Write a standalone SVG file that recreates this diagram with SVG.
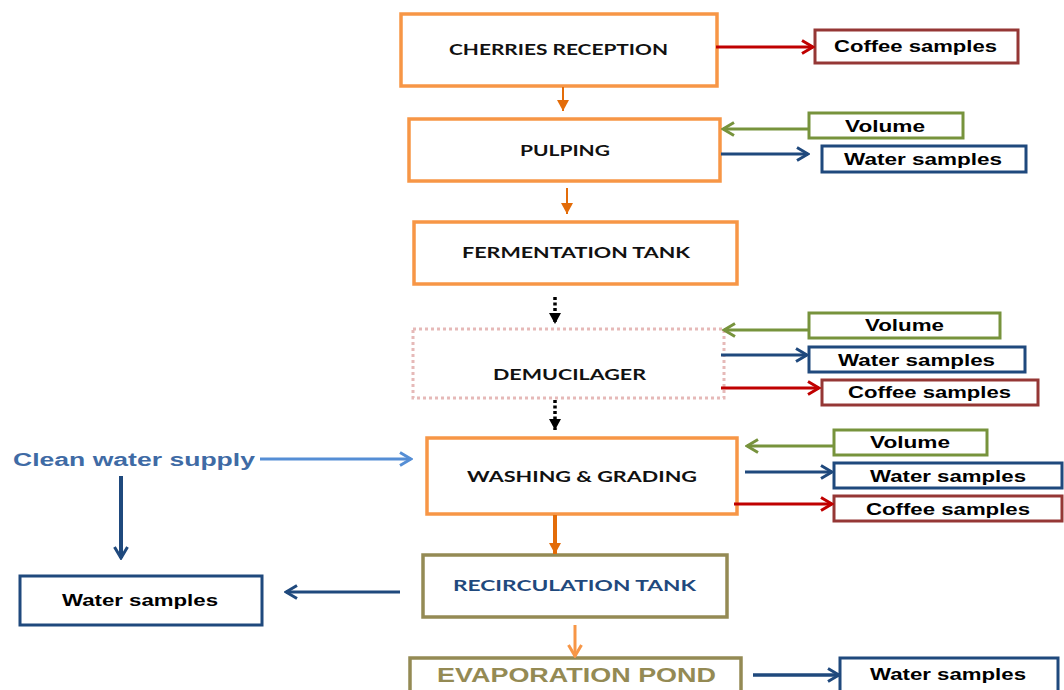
<svg xmlns="http://www.w3.org/2000/svg" width="1064" height="690" viewBox="0 0 1064 690">
  <style>
    .step { fill: #ffffff; stroke: #F79646; stroke-width: 3.5; }
    .olive { fill: #ffffff; stroke: #948A54; stroke-width: 3.5; }
    .dotted { fill: #ffffff; stroke: #E6B9B8; stroke-width: 3; stroke-dasharray: 3 3; }
    .coffee { fill: #ffffff; stroke: #953735; stroke-width: 3; }
    .vol { fill: #ffffff; stroke: #77933C; stroke-width: 3; }
    .water { fill: #ffffff; stroke: #1F497D; stroke-width: 3; }
    .lbl { font-family: Lato, "Open Sans", "Liberation Sans", sans-serif; font-weight: bold; font-size: 15.5px; fill: #111111; text-anchor: start; }
    .smp { font-family: "Liberation Sans", Arial, sans-serif; font-weight: bold; font-size: 16px; fill: #000000; }
    .red { stroke: #C00000; stroke-width: 3; fill: none; }
    .grn { stroke: #77933C; stroke-width: 3; fill: none; }
    .blu { stroke: #1F497D; stroke-width: 3; fill: none; }
  </style>
  <defs>
    <marker id="chRed" viewBox="0 0 16 16" refX="14" refY="8" markerWidth="16" markerHeight="16" markerUnits="userSpaceOnUse" orient="auto">
      <path d="M3,1.5 L14,8 L3,14.5" fill="none" stroke="#C00000" stroke-width="3"/>
    </marker>
    <marker id="chGrn" viewBox="0 0 16 16" refX="14" refY="8" markerWidth="16" markerHeight="16" markerUnits="userSpaceOnUse" orient="auto">
      <path d="M3,1.5 L14,8 L3,14.5" fill="none" stroke="#77933C" stroke-width="3"/>
    </marker>
    <marker id="chBlu" viewBox="0 0 16 16" refX="14" refY="8" markerWidth="16" markerHeight="16" markerUnits="userSpaceOnUse" orient="auto">
      <path d="M3,1.5 L14,8 L3,14.5" fill="none" stroke="#1F497D" stroke-width="3"/>
    </marker>
    <marker id="chSky" viewBox="0 0 16 16" refX="14" refY="8" markerWidth="16" markerHeight="16" markerUnits="userSpaceOnUse" orient="auto">
      <path d="M3,1.5 L14,8 L3,14.5" fill="none" stroke="#558ED5" stroke-width="3"/>
    </marker>
    <marker id="chOrg" viewBox="0 0 16 16" refX="14" refY="8" markerWidth="16" markerHeight="16" markerUnits="userSpaceOnUse" orient="auto">
      <path d="M3,1.5 L14,8 L3,14.5" fill="none" stroke="#F79646" stroke-width="3"/>
    </marker>
    <marker id="triOrg" viewBox="0 0 12 12" refX="11" refY="6" markerWidth="12" markerHeight="12" markerUnits="userSpaceOnUse" orient="auto">
      <path d="M0,0 L11,6 L0,12 Z" fill="#E36C09"/>
    </marker>
    <marker id="triBlk" viewBox="0 0 12 12" refX="11" refY="6" markerWidth="12" markerHeight="12" markerUnits="userSpaceOnUse" orient="auto">
      <path d="M0,0 L11,6 L0,12 Z" fill="#000000"/>
    </marker>
  </defs>

  <rect width="1064" height="690" fill="#ffffff"/>

  <!-- process steps -->
  <g id="cherries-reception">
    <rect class="step" x="401" y="14" width="316" height="72"/>
    <text class="lbl" x="449" y="55" textLength="219" lengthAdjust="spacingAndGlyphs">CHERRIES RECEPTION</text>
  </g>
  <g id="pulping">
    <rect class="step" x="409" y="119" width="311" height="62"/>
    <text class="lbl" x="520" y="156" textLength="90" lengthAdjust="spacingAndGlyphs">PULPING</text>
  </g>
  <g id="fermentation-tank">
    <rect class="step" x="414" y="222" width="323" height="62"/>
    <text class="lbl" x="462" y="258" textLength="228" lengthAdjust="spacingAndGlyphs">FERMENTATION TANK</text>
  </g>
  <g id="demucilager">
    <rect class="dotted" x="413" y="329" width="311" height="69"/>
    <text class="lbl" x="493" y="380" textLength="153" lengthAdjust="spacingAndGlyphs">DEMUCILAGER</text>
  </g>
  <g id="washing-grading">
    <rect class="step" x="427" y="438" width="310" height="76"/>
    <text class="lbl" x="467" y="482" textLength="230" lengthAdjust="spacingAndGlyphs">WASHING &amp; GRADING</text>
  </g>
  <g id="recirculation-tank">
    <rect class="olive" x="423" y="555" width="304" height="62"/>
    <text class="lbl" x="453" y="591" textLength="243" lengthAdjust="spacingAndGlyphs" style="fill:#1F497D">RECIRCULATION TANK</text>
  </g>
  <g id="evaporation-pond">
    <rect class="olive" x="410" y="658" width="331" height="45"/>
    <text x="437" y="682" textLength="279" lengthAdjust="spacingAndGlyphs" style="font-family:'Liberation Sans',Arial,sans-serif;font-weight:bold;font-size:21px;fill:#948A54">EVAPORATION POND</text>
  </g>

  <!-- clean water supply source -->
  <g id="clean-water-supply">
    <text x="13" y="466" textLength="242" lengthAdjust="spacingAndGlyphs" style="font-family:'Liberation Sans',Arial,sans-serif;font-weight:bold;font-size:18px;fill:#3F6BA5">Clean water supply</text>
  </g>

  <!-- sampling / measurement boxes -->
  <g id="coffee-samples-1">
    <rect class="coffee" x="815" y="30" width="203" height="33"/>
    <text class="smp" x="834" y="52" textLength="163" lengthAdjust="spacingAndGlyphs">Coffee samples</text>
  </g>
  <g id="volume-1">
    <rect class="vol" x="809" y="113" width="154" height="25"/>
    <text class="smp" x="845" y="132" textLength="80" lengthAdjust="spacingAndGlyphs">Volume</text>
  </g>
  <g id="water-samples-1">
    <rect class="water" x="822" y="146" width="204" height="26"/>
    <text class="smp" x="844" y="165" textLength="158" lengthAdjust="spacingAndGlyphs">Water samples</text>
  </g>
  <g id="volume-2">
    <rect class="vol" x="809" y="313" width="191" height="25"/>
    <text class="smp" x="865" y="331" textLength="79" lengthAdjust="spacingAndGlyphs">Volume</text>
  </g>
  <g id="water-samples-2">
    <rect class="water" x="809" y="347" width="216" height="25"/>
    <text class="smp" x="838" y="366" textLength="157" lengthAdjust="spacingAndGlyphs">Water samples</text>
  </g>
  <g id="coffee-samples-2">
    <rect class="coffee" x="822" y="380" width="216" height="25"/>
    <text class="smp" x="848" y="398" textLength="163" lengthAdjust="spacingAndGlyphs">Coffee samples</text>
  </g>
  <g id="volume-3">
    <rect class="vol" x="834" y="430" width="153" height="25"/>
    <text class="smp" x="870" y="448" textLength="80" lengthAdjust="spacingAndGlyphs">Volume</text>
  </g>
  <g id="water-samples-3">
    <rect class="water" x="834" y="463" width="228" height="25"/>
    <text class="smp" x="870" y="482" textLength="156" lengthAdjust="spacingAndGlyphs">Water samples</text>
  </g>
  <g id="coffee-samples-3">
    <rect class="coffee" x="834" y="496" width="228" height="25"/>
    <text class="smp" x="866" y="515" textLength="164" lengthAdjust="spacingAndGlyphs">Coffee samples</text>
  </g>
  <g id="water-samples-4">
    <rect class="water" x="20" y="576" width="242" height="49"/>
    <text class="smp" x="62" y="606" textLength="156" lengthAdjust="spacingAndGlyphs">Water samples</text>
  </g>
  <g id="water-samples-5">
    <rect class="water" x="840" y="658" width="218" height="45"/>
    <text class="smp" x="870" y="680" textLength="156" lengthAdjust="spacingAndGlyphs">Water samples</text>
  </g>

  <!-- connectors -->
  <g id="connectors">
    <!-- main flow -->
    <line x1="563" y1="87" x2="563" y2="111" stroke="#E36C09" stroke-width="2" marker-end="url(#triOrg)"/>
    <line x1="567" y1="188" x2="567" y2="214" stroke="#E36C09" stroke-width="2" marker-end="url(#triOrg)"/>
    <line x1="555" y1="297" x2="555" y2="324" stroke="#000000" stroke-width="3.5" stroke-dasharray="3 2.5" marker-end="url(#triBlk)"/>
    <line x1="555" y1="400" x2="555" y2="430" stroke="#000000" stroke-width="3.5" stroke-dasharray="3 2.5" marker-end="url(#triBlk)"/>
    <line x1="555" y1="515" x2="555" y2="554" stroke="#E36C09" stroke-width="4" marker-end="url(#triOrg)"/>
    <line x1="575" y1="625" x2="575" y2="656" stroke="#F79646" stroke-width="3" marker-end="url(#chOrg)"/>

    <!-- cherries reception -->
    <line class="red" x1="716" y1="47" x2="813" y2="47" marker-end="url(#chRed)"/>
    <!-- pulping -->
    <line class="grn" x1="808" y1="129" x2="723" y2="129" marker-end="url(#chGrn)"/>
    <line class="blu" x1="721" y1="154" x2="808" y2="154" marker-end="url(#chBlu)"/>
    <!-- demucilager -->
    <line class="grn" x1="808" y1="330" x2="724" y2="330" marker-end="url(#chGrn)"/>
    <line class="blu" x1="721" y1="355" x2="807" y2="355" marker-end="url(#chBlu)"/>
    <line class="red" x1="721" y1="388" x2="819" y2="388" marker-end="url(#chRed)"/>
    <!-- washing & grading -->
    <line class="grn" x1="833" y1="446" x2="747" y2="446" marker-end="url(#chGrn)"/>
    <line class="blu" x1="745" y1="472" x2="832" y2="472" marker-end="url(#chBlu)"/>
    <line class="red" x1="734" y1="504" x2="832" y2="504" marker-end="url(#chRed)"/>

    <!-- clean water supply -->
    <line x1="260" y1="459" x2="411" y2="459" stroke="#558ED5" stroke-width="3" marker-end="url(#chSky)"/>
    <line class="blu" x1="121" y1="476" x2="121" y2="558" style="stroke-width:4" marker-end="url(#chBlu)"/>
    <!-- recirculation tank to water samples -->
    <line class="blu" x1="400" y1="592" x2="286" y2="592" marker-end="url(#chBlu)"/>
    <!-- evaporation pond to water samples -->
    <line class="blu" x1="753" y1="675" x2="839" y2="675" style="stroke-width:3.5" marker-end="url(#chBlu)"/>
  </g>
</svg>
